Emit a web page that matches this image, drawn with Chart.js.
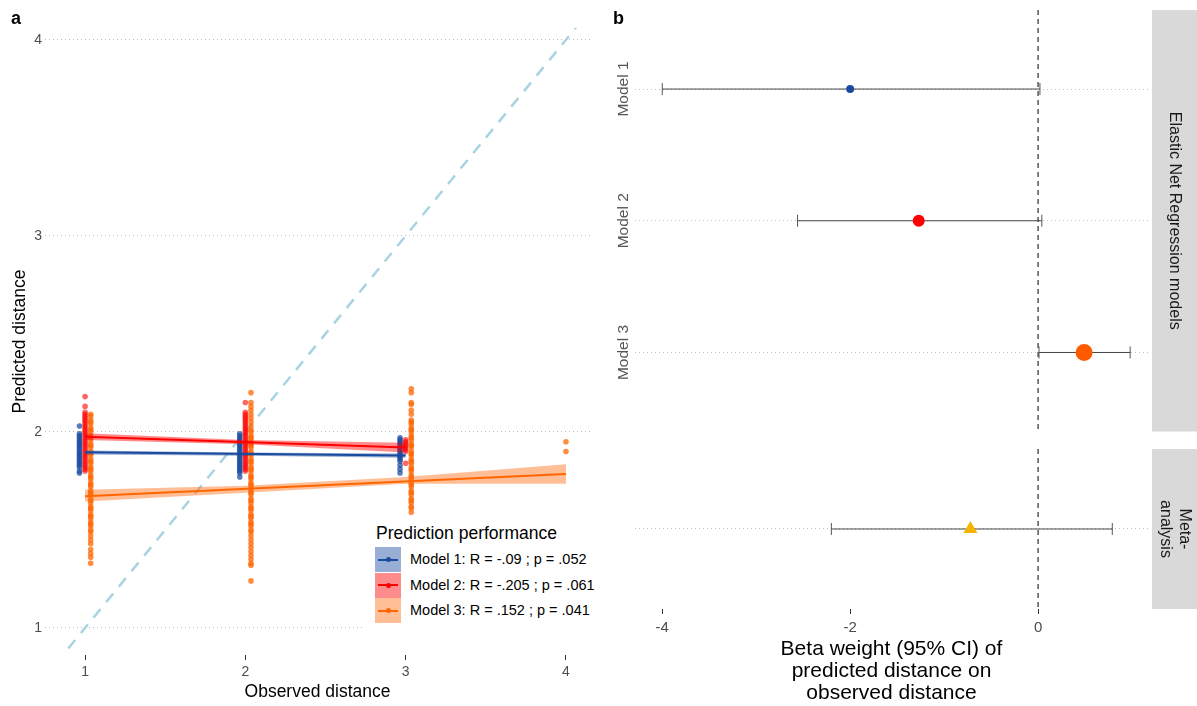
<!DOCTYPE html>
<html>
<head>
<meta charset="utf-8">
<script src="https://cdn.jsdelivr.net/npm/chart.js@4"></script>
<style>
  body { margin: 0; background: #fff; font-family: 'Liberation Sans', Arial, sans-serif; }
  #wrap { position: relative; width: 1197px; height: 706px; overflow: hidden; }
  canvas { position: absolute; }
  .tag { position: absolute; top: 8px; font-weight: bold; font-size: 18px; color: #000; }
  #legA { position: absolute; left: 364px; top: 515px; width: 236px; height: 113px; background: #fff; }
  #legA .lt { position: absolute; left: 12px; top: 8px; font-size: 17.5px; color: #000; white-space: nowrap; }
  .row { position: absolute; left: 11px; height: 25px; width: 220px; }
  .key { position: absolute; left: 0; top: 0; width: 26px; height: 25px; }
  .key i { position: absolute; left: 3px; right: 3px; top: 11.5px; height: 2px; }
  .key b { position: absolute; left: 10.5px; top: 10px; width: 5px; height: 5px; border-radius: 50%; }
  .row .t { position: absolute; left: 35px; top: 0; line-height: 25px; font-size: 14.5px; color: #000; white-space: nowrap; }
</style>
</head>
<body>
<div id="wrap">
  <canvas id="chartA" width="600" height="706" style="left:0;top:0"></canvas>
  <canvas id="chartB1" width="597" height="440" style="left:600px;top:0"></canvas>
  <canvas id="chartB2" width="597" height="266" style="left:600px;top:440px"></canvas>
  <div class="tag" style="left:11px">a</div>
  <div class="tag" style="left:613px">b</div>
  <div id="legA"><div class="lt">Prediction performance</div></div>
</div>
<script>
// ---- panel a: predicted vs observed distance ----
const obsTicks = [1, 2, 3, 4];
const predTicks = [1, 2, 3, 4];

// Model 1 predictions per observed distance
const m1At1 = [2.03, 1.99, 1.98, 1.97, 1.96, 1.95, 1.94, 1.93, 1.92, 1.91, 1.90, 1.89, 1.88, 1.87, 1.86, 1.85, 1.84, 1.83, 1.82, 1.80, 1.79];
const m1At2 = [1.99, 1.98, 1.97, 1.96, 1.95, 1.94, 1.93, 1.92, 1.91, 1.90, 1.89, 1.88, 1.87, 1.86, 1.85, 1.84, 1.83, 1.82, 1.81, 1.80, 1.79, 1.77];
const m1At3 = [1.97, 1.96, 1.95, 1.94, 1.93, 1.92, 1.91, 1.90, 1.89, 1.88, 1.87, 1.86, 1.85, 1.83, 1.81, 1.79];

// Model 2
const m2At1 = [2.18, 2.13, 2.10, 2.09, 2.08, 2.07, 2.06, 2.05, 2.04, 2.03, 2.02, 2.01, 2.00, 1.99, 1.98, 1.97, 1.96, 1.95, 1.94, 1.93, 1.92, 1.91, 1.90, 1.89, 1.88, 1.87, 1.86, 1.85, 1.84, 1.83, 1.82, 1.81, 1.80];
const m2At2 = [2.15, 2.10, 2.09, 2.08, 2.07, 2.06, 2.05, 2.04, 2.03, 2.02, 2.01, 2.00, 1.99, 1.98, 1.97, 1.96, 1.95, 1.94, 1.93, 1.92, 1.91, 1.90, 1.89, 1.88, 1.87, 1.86, 1.85, 1.84, 1.83, 1.82, 1.81, 1.80];
const m2At3 = [1.96, 1.95, 1.94, 1.93, 1.92, 1.91, 1.90, 1.84];

// Model 3
const m3At1 = [2.09, 2.08, 2.06, 2.05, 2.04, 2.02, 2.01, 2.00, 1.98, 1.97, 1.96, 1.94, 1.93, 1.92, 1.90, 1.89, 1.88, 1.86, 1.85, 1.84, 1.82, 1.81, 1.80, 1.78, 1.77, 1.76, 1.74, 1.73, 1.72, 1.70, 1.69, 1.68, 1.66, 1.65, 1.64, 1.62, 1.61, 1.60, 1.58, 1.57, 1.56, 1.54, 1.53, 1.52, 1.50, 1.49, 1.47, 1.45, 1.43, 1.40, 1.38, 1.36, 1.33];
const m3At2 = [2.20, 2.15, 2.13, 2.11, 2.09, 2.07, 2.05, 2.03, 2.01, 2.00, 1.98, 1.97, 1.96, 1.94, 1.93, 1.92, 1.90, 1.89, 1.88, 1.86, 1.85, 1.84, 1.82, 1.81, 1.80, 1.78, 1.77, 1.76, 1.74, 1.73, 1.72, 1.70, 1.69, 1.68, 1.66, 1.65, 1.64, 1.62, 1.61, 1.60, 1.58, 1.57, 1.56, 1.54, 1.53, 1.52, 1.50, 1.49, 1.47, 1.45, 1.43, 1.41, 1.39, 1.37, 1.35, 1.33, 1.32, 1.24];
const m3At3 = [2.22, 2.20, 2.15, 2.14, 2.11, 2.09, 2.06, 2.05, 2.04, 2.02, 2.01, 2.00, 1.98, 1.97, 1.96, 1.94, 1.93, 1.92, 1.90, 1.89, 1.88, 1.86, 1.85, 1.84, 1.82, 1.81, 1.80, 1.78, 1.77, 1.76, 1.74, 1.73, 1.72, 1.70, 1.69, 1.68, 1.66, 1.65, 1.64, 1.62, 1.61, 1.59];
const m3At4 = [1.95, 1.90];

// fitted lines and 95% bands
const m1FitX = [1, 3], m1Fit = [1.896, 1.880];
const m2FitX = [1, 3], m2Fit = [1.975, 1.920];
const m3FitX = [1, 4], m3Fit = [1.672, 1.785];
const m1BandX = [1, 2, 3], m1Lo = [1.885, 1.878, 1.868], m1Hi = [1.905, 1.895, 1.890];
const m2BandX = [1, 2, 3], m2Lo = [1.958, 1.937, 1.895], m2Hi = [1.993, 1.958, 1.945];
const m3BandX = [1, 2, 3, 4], m3Lo = [1.645, 1.690, 1.735, 1.735], m3Hi = [1.705, 1.725, 1.770, 1.835];

const legendLabels = ['Model 1: R = -.09 ; p = .052', 'Model 2: R = -.205 ; p = .061', 'Model 3: R = .152 ; p = .041'];

// ---- panel b: beta weights ----
const rowLabels = ['Model 1', 'Model 2', 'Model 3'];
const betaEst = [-2.0, -1.27, 0.49];
const betaLo = [-4.0, -2.56, 0.01];
const betaHi = [0.02, 0.04, 0.98];
const metaEst = [-0.72], metaLo = [-2.2], metaHi = [0.79];
const betaTicks = [-4, -2, 0];

const FONT = "'Liberation Sans', Arial, sans-serif";
Chart.defaults.font.family = FONT;
const tickGrey = '#4D4D4D';
const colLine = ['#1B4B9F', '#FF0000', '#FF6600'];
const colPoint = ['rgba(27,75,159,0.72)', 'rgba(255,0,0,0.6)', 'rgba(255,102,0,0.75)'];
const colBand = ['rgba(27,75,159,0.45)', 'rgba(255,0,0,0.45)', 'rgba(255,110,20,0.45)'];
const dodge = 0.035;

function column(obs, preds, dx) {
  return preds.map(p => ({ x: obs + dx, y: p }));
}
function curve(xs, ys) {
  return xs.map((x, i) => ({ x: x, y: ys[i] }));
}
function pointSet(data, i) {
  return { type: 'scatter', data: data, pointRadius: 2.8, pointBorderWidth: 0,
    pointBackgroundColor: colPoint[i], order: 5 };
}
function bandPair(xs, lo, hi, i) {
  return [
    { type: 'line', data: curve(xs, hi), borderColor: 'rgba(0,0,0,0)', borderWidth: 0, pointRadius: 0,
      fill: '+1', backgroundColor: colBand[i], order: 3 },
    { type: 'line', data: curve(xs, lo), borderColor: 'rgba(0,0,0,0)', borderWidth: 0, pointRadius: 0,
      fill: false, order: 3 }
  ];
}
function fitLine(xs, ys, i) {
  return { type: 'line', data: curve(xs, ys), borderColor: colLine[i], borderWidth: 2, pointRadius: 0,
    fill: false, order: 1 };
}
const fixedTicks = vals => axis => { axis.ticks = vals.map(v => ({ value: v })); };

new Chart(document.getElementById('chartA'), {
  type: 'scatter',
  data: {
    datasets: [
      fitLine(m1FitX, m1Fit, 0),
      fitLine(m2FitX, m2Fit, 1),
      fitLine(m3FitX, m3Fit, 2),
      ...bandPair(m1BandX, m1Lo, m1Hi, 0),
      ...bandPair(m2BandX, m2Lo, m2Hi, 1),
      ...bandPair(m3BandX, m3Lo, m3Hi, 2),
      pointSet([].concat(column(1, m1At1, -dodge), column(2, m1At2, -dodge), column(3, m1At3, -dodge)), 0),
      pointSet([].concat(column(1, m2At1, 0), column(2, m2At2, 0), column(3, m2At3, 0)), 1),
      pointSet([].concat(column(1, m3At1, dodge), column(2, m3At2, dodge), column(3, m3At3, dodge), column(4, m3At4, 0)), 2),
      { type: 'line', data: [{ x: 0.5, y: 0.5 }, { x: 4.5, y: 4.5 }], borderColor: '#A8D4E2', borderWidth: 2.5,
        borderDash: [11, 9], pointRadius: 0, fill: false, order: 9 }
    ]
  },
  options: {
    responsive: false, animation: false, events: [],
    layout: { padding: { top: 28, right: 10, left: 0, bottom: 0 } },
    plugins: { legend: { display: false }, tooltip: { enabled: false } },
    scales: {
      x: {
        type: 'linear', min: 0.75, max: 4.15,
        afterBuildTicks: fixedTicks(obsTicks),
        afterFit: s => { s.height = 51; },
        grid: { drawOnChartArea: false, drawTicks: true, tickLength: 5, tickColor: '#333', tickWidth: 1 },
        border: { display: false },
        ticks: { color: tickGrey, font: { size: 14 }, padding: 4 },
        title: { display: true, text: 'Observed distance', color: '#000', font: { size: 17.5 }, padding: { top: 0, bottom: 3 } }
      },
      y: {
        type: 'linear', min: 0.862, max: 4.06,
        afterBuildTicks: fixedTicks(predTicks),
        afterFit: s => { s.width = 45; },
        grid: { color: '#BDBDBD', lineWidth: 1, drawTicks: false },
        border: { display: false, dash: [1, 3] },
        ticks: { color: tickGrey, font: { size: 14 }, padding: 3 },
        title: { display: true, text: 'Predicted distance', color: '#000', font: { size: 17.5 }, padding: { top: 10, bottom: 0 } }
      }
    }
  }
});

// legend of panel a
const leg = document.getElementById('legA');
legendLabels.forEach((txt, i) => {
  const row = document.createElement('div');
  row.className = 'row';
  row.style.top = (32 + i * 25.5) + 'px';
  row.innerHTML = '<span class="key" style="background:' + colBand[i] + '"><i style="background:' + colLine[i] +
    '"></i><b style="background:' + colLine[i] + '"></b></span><span class="t">' + txt + '</span>';
  leg.appendChild(row);
});

// ---- panel b helpers ----
function stripPlugin(lines) {
  return {
    id: 'strip',
    afterDraw(chart) {
      const { ctx, chartArea } = chart;
      const x0 = chartArea.right + 4;
      ctx.save();
      ctx.fillStyle = '#D9D9D9';
      ctx.fillRect(x0, chartArea.top, chart.width - x0, chartArea.bottom - chartArea.top);
      ctx.translate((x0 + chart.width) / 2, (chartArea.top + chartArea.bottom) / 2);
      ctx.rotate(Math.PI / 2);
      ctx.fillStyle = '#1A1A1A';
      ctx.font = '16px ' + FONT;
      ctx.textAlign = 'center';
      ctx.textBaseline = 'middle';
      const lh = 19;
      lines.forEach((t, i) => ctx.fillText(t, 0, (i - (lines.length - 1) / 2) * lh));
      ctx.restore();
    }
  };
}
function rowLabelPlugin(labels) {
  return {
    id: 'rowLabels',
    afterDraw(chart) {
      const { ctx, chartArea } = chart;
      const ys = chart.scales.y;
      ctx.save();
      ctx.fillStyle = '#555';
      ctx.font = '15.5px ' + FONT;
      ctx.textAlign = 'center';
      ctx.textBaseline = 'middle';
      labels.forEach((t, i) => {
        ctx.save();
        ctx.translate(chartArea.left - 11, ys.getPixelForValue(i + 1));
        ctx.rotate(-Math.PI / 2);
        ctx.fillText(t, 0, 0);
        ctx.restore();
      });
      ctx.restore();
    }
  };
}
function errorBar(lo, hi, row) {
  return { type: 'line', data: [{ x: lo, y: row }, { x: hi, y: row }], borderColor: '#444', borderWidth: 1,
    pointStyle: 'line', pointRotation: 90, pointRadius: 6, pointBorderColor: '#555', pointBorderWidth: 1,
    fill: false, order: 3 };
}
function zeroLine(yMin, yMax) {
  return { type: 'line', data: [{ x: 0, y: yMin }, { x: 0, y: yMax }], borderColor: '#000', borderWidth: 1,
    borderDash: [5, 4], pointRadius: 0, fill: false, order: 6 };
}
const bX = {
  type: 'linear', min: -4.29, max: 1.17,
  afterBuildTicks: fixedTicks(betaTicks),
  grid: { drawOnChartArea: false, drawTicks: true, tickLength: 5, tickColor: '#333', tickWidth: 1 },
  border: { display: false },
  ticks: { color: tickGrey, font: { size: 15 }, padding: 5 }
};
function bY(min, max, ticks) {
  return {
    type: 'linear', reverse: true, min: min, max: max,
    afterBuildTicks: fixedTicks(ticks),
    afterFit: s => { s.width = 35; },
    grid: { color: '#BDBDBD', lineWidth: 1, drawTicks: false },
    border: { display: false, dash: [1, 3] },
    ticks: { display: false }
  };
}

new Chart(document.getElementById('chartB1'), {
  type: 'scatter',
  data: {
    datasets: [
      { type: 'scatter', data: betaEst.map((v, i) => ({ x: v, y: i + 1 })),
        pointRadius: [4, 6, 8.5], pointBorderWidth: 0,
        pointBackgroundColor: ['#1B4B9F', '#FF0000', '#FF5A00'], order: 1 },
      ...betaEst.map((v, i) => errorBar(betaLo[i], betaHi[i], i + 1)),
      zeroLine(0.4, 3.6)
    ]
  },
  options: {
    responsive: false, animation: false, events: [],
    layout: { padding: { top: 10, right: 49, left: 0, bottom: 1 } },
    plugins: { legend: { display: false }, tooltip: { enabled: false } },
    scales: { x: Object.assign({}, bX, { display: false }), y: bY(0.4, 3.6, [1, 2, 3]) }
  },
  plugins: [stripPlugin(['Elastic Net Regression models']), rowLabelPlugin(rowLabels)]
});

new Chart(document.getElementById('chartB2'), {
  type: 'scatter',
  data: {
    datasets: [
      { type: 'scatter', data: metaEst.map(v => ({ x: v, y: 1 })), pointStyle: 'triangle',
        pointRadius: 8, pointBorderWidth: 0, pointBackgroundColor: '#F5B200', order: 1 },
      errorBar(metaLo[0], metaHi[0], 1),
      zeroLine(0.4, 1.6)
    ]
  },
  options: {
    responsive: false, animation: false, events: [],
    layout: { padding: { top: 9, right: 49, left: 0, bottom: 0 } },
    plugins: { legend: { display: false }, tooltip: { enabled: false } },
    scales: {
      x: Object.assign({}, bX, {
        afterFit: s => { s.height = 97; },
        title: { display: true, text: ['Beta weight (95% CI) of', 'predicted distance on', 'observed distance'],
          color: '#000', font: { size: 21, lineHeight: 1.05 }, padding: { top: 0, bottom: 2 } }
      }),
      y: bY(0.4, 1.6, [1])
    }
  },
  plugins: [stripPlugin(['Meta-', 'analysis'])]
});
</script>
</body>
</html>
